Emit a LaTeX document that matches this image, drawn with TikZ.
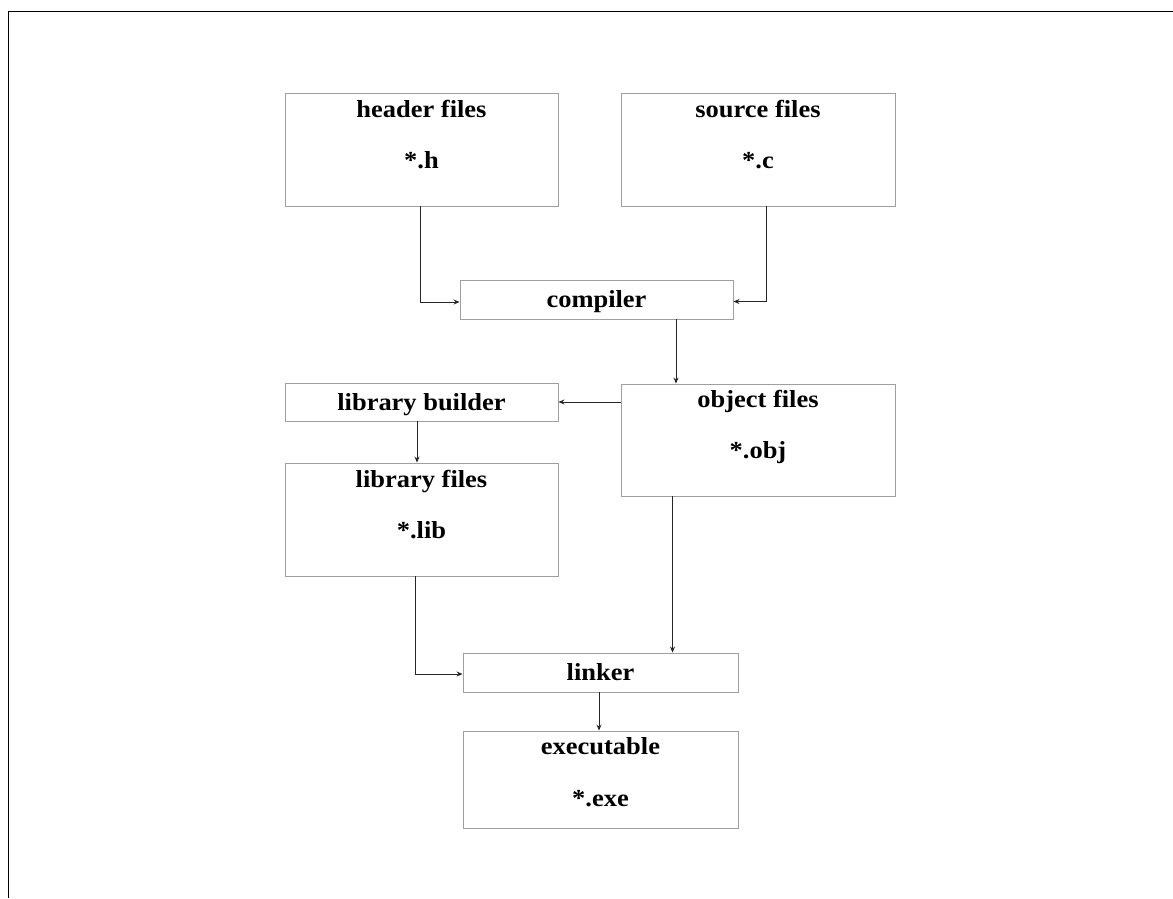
\documentclass[tikz,border=0pt]{standalone}
\usepackage{fontspec}
\setmainfont{Liberation Serif}[FakeStretch=1.08]
\usetikzlibrary{arrows.meta}

\begin{document}
\begin{tikzpicture}[x=1pt,y=-1pt,
  box/.style={draw=gray!75, line width=0.9pt, inner sep=0pt},
  lbl/.style={anchor=base, inner sep=0pt, font=\fontsize{24.5}{28}\selectfont\bfseries},
  flow/.style={draw=black!85, line width=0.9pt, -{Stealth[length=6pt,width=5pt]}}]

\useasboundingbox (0,0) rectangle (1173,898);

% outer frame (top and left edges)
\draw[line width=1.5pt] (1173,11.5) -- (8.3,11.5) -- (8.3,898);

% boxes
\node[box, minimum width=273pt, minimum height=113pt] (hdr) at (421.5,149.5) {};
\node[box, minimum width=274pt, minimum height=113pt] (src) at (758,149.5) {};
\node[box, minimum width=273pt, minimum height=39pt]  (cmp) at (596.5,299.5) {};
\node[box, minimum width=274pt, minimum height=112pt] (obj) at (758,440) {};
\node[box, minimum width=273pt, minimum height=38pt]  (lbb) at (421.5,402) {};
\node[box, minimum width=273pt, minimum height=113pt] (lbf) at (421.5,519.5) {};
\node[box, minimum width=275pt, minimum height=39pt]  (lnk) at (600.5,672.5) {};
\node[box, minimum width=275pt, minimum height=97pt]  (exe) at (600.5,779.5) {};

% labels
\node[lbl] (hdr-a) at ([yshift=-24.5pt]hdr.north) {header files};
\node[lbl] (hdr-b) at ([yshift=-76pt]hdr.north) {*.h};
\node[lbl] (src-a) at ([yshift=-24.5pt]src.north) {source files};
\node[lbl] (src-b) at ([yshift=-76pt]src.north) {*.c};
\node[lbl] (cmp-a) at ([yshift=-8pt]cmp.center) {compiler};
\node[lbl] (obj-a) at ([yshift=-23.5pt]obj.north) {object files};
\node[lbl] (obj-b) at ([yshift=-74.5pt]obj.north) {*.obj};
\node[lbl] (lbb-a) at ([yshift=-8pt]lbb.center) {library builder};
\node[lbl] (lbf-a) at ([yshift=-24.5pt]lbf.north) {library files};
\node[lbl] (lbf-b) at ([yshift=-76pt]lbf.north) {*.lib};
\node[lbl] (lnk-a) at ([yshift=-8pt]lnk.center) {linker};
\node[lbl] (exe-a) at ([yshift=-24pt]exe.north) {executable};
\node[lbl] (exe-b) at ([yshift=-76pt]exe.north) {*.exe};

% connectors
\draw[flow] ([xshift=-1.5pt]hdr.south) |- ([yshift=-2.5pt]cmp.west);
\draw[flow] ([xshift=8pt]src.south) |- ([yshift=-2pt]cmp.east);
\draw[flow] ([xshift=79.5pt]cmp.south) -- ([xshift=79.5pt]cmp.south |- obj.north);
\draw[flow] (obj.west |- lbb.east) -- (lbb.east);
\draw[flow] ([xshift=-4.5pt]lbb.south) -- ([xshift=-4.5pt]lbf.north);
\draw[flow] ([xshift=-6.5pt]lbf.south) |- ([yshift=-1.5pt]lnk.west);
\draw[flow] ([xshift=72pt]lnk.north |- obj.south) -- ([xshift=72pt]lnk.north);
\draw[flow] ([xshift=-1.5pt]lnk.south) -- ([xshift=-1.5pt]exe.north);

\end{tikzpicture}
\end{document}
